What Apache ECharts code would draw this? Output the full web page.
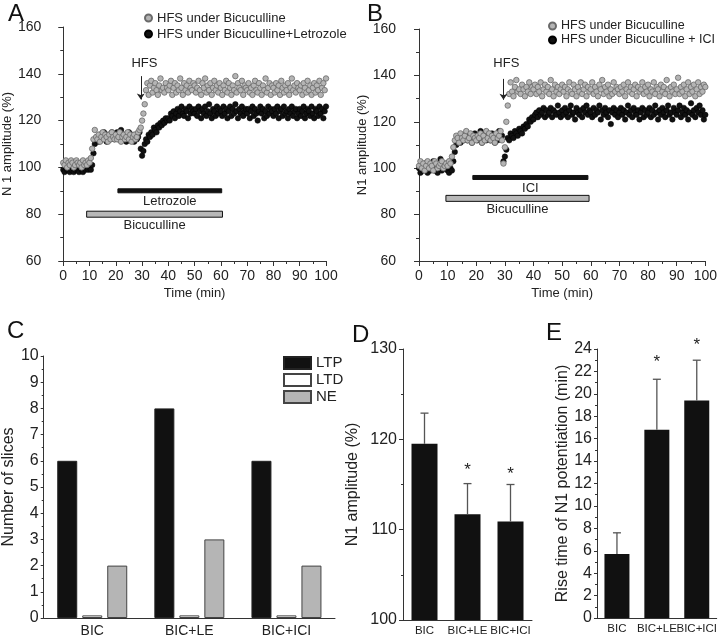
<!DOCTYPE html>
<html lang="en">
<head>
<meta charset="UTF-8">
<title>N1 amplitude</title>
<script src="https://cdn.jsdelivr.net/npm/echarts@6/dist/echarts.min.js"></script>
<style>body{margin:0;background:#fff}</style>
</head>
<body>
<div id="main" style="width:720px;height:638px"></div>
<script type="text/javascript">
// recordings in A and B, one value every 0.5 min from 0 to 100 min
var step = 0.5;
var aBic = [
  102,101,103,100,102,101,103,102,100,101,103,102,101,102,100,103,101,102,101,103,
  102,104,108,112,116,113,112,114,111,113,115,112,114,113,111,114,112,115,113,112,
  114,112,113,115,111,113,114,112,113,115,112,114,111,113,114,112,113,115,116,117,
  120,123,127,133,136,131,135,137,132,134,136,133,131,135,138,133,134,132,136,134,
  133,135,137,131,134,136,132,135,133,138,134,131,136,133,135,132,137,134,133,136,
  135,132,134,137,133,131,136,134,138,132,135,133,136,131,134,137,133,135,132,136,
  134,131,135,133,137,132,136,134,131,135,133,139,132,136,134,133,137,131,135,134,
  133,136,132,134,131,135,137,133,132,136,134,131,135,133,138,132,134,136,131,135,
  134,132,136,133,135,131,137,134,132,135,133,136,131,134,138,133,135,132,136,134,
  133,135,131,136,134,132,137,133,135,131,134,136,132,135,133,137,131,134,136,133,
  138
];
var aLet = [
  99,98,100,99,101,98,99,100,98,99,101,99,98,100,99,98,100,99,101,99,
  100,99,101,106,110,112,113,111,114,112,113,115,112,111,114,113,112,115,113,112,
  113,115,112,114,116,113,112,114,111,113,115,112,114,113,111,114,112,113,115,108,
  105,107,110,112,111,114,113,115,114,117,116,115,118,117,119,118,120,119,121,120,
  121,120,123,122,124,121,123,125,122,124,126,123,122,125,124,121,126,123,125,124,
  123,125,122,126,124,121,125,123,126,122,124,127,123,121,125,124,122,126,123,125,
  124,122,126,123,125,121,124,126,122,125,123,127,124,121,125,123,126,122,124,125,
  123,125,121,124,126,122,125,123,120,124,126,123,125,121,124,122,126,123,125,124,
  122,125,123,126,121,124,125,122,126,123,124,121,125,123,126,122,124,125,121,123,
  125,122,124,126,121,123,125,124,122,126,123,121,125,124,122,126,123,125,121,124,
  126
];
var bBic = [
  101,103,100,102,99,101,103,100,102,101,99,103,102,100,101,102,103,100,101,102,
  101,103,102,105,109,112,114,113,111,115,113,112,114,116,112,113,115,111,114,113,
  112,114,113,115,111,114,112,116,113,115,112,114,113,111,115,113,114,116,112,102,
  109,120,127,132,137,133,131,135,138,133,134,132,136,134,131,135,133,137,132,135,
  134,136,132,135,133,137,131,134,136,133,135,132,138,134,131,136,133,135,132,134,
  136,133,135,131,134,137,133,132,136,134,131,135,133,137,132,134,136,131,135,133,
  134,137,132,135,133,131,136,134,138,132,135,133,136,131,134,132,137,133,135,134,
  132,135,133,136,131,134,137,133,135,132,134,136,131,135,133,134,137,132,135,133,
  136,131,134,133,137,132,135,134,131,136,133,135,132,138,134,131,135,133,136,132,
  134,139,132,135,133,136,131,134,137,132,135,133,136,131,134,137,132,135,133,136,
  135
];
var bIci = [
  100,98,101,99,102,100,98,101,99,100,103,99,101,98,100,104,99,101,100,102,
  99,98,100,99,103,107,110,112,113,111,114,112,113,115,112,114,113,111,112,115,
  113,112,114,116,111,113,115,112,114,113,112,115,113,111,114,112,116,113,114,103,
  105,108,113,112,115,114,113,116,115,114,117,116,115,118,117,119,118,121,120,122,
  121,123,124,122,125,123,124,126,122,125,123,124,126,122,125,124,123,127,124,122,
  125,123,126,124,122,125,127,123,124,121,126,124,123,125,122,126,124,127,123,125,
  124,122,126,123,125,124,127,121,125,123,126,124,122,125,119,124,126,123,125,122,
  124,126,123,125,121,124,127,123,125,122,126,124,123,125,121,124,126,122,125,123,
  124,126,122,125,123,127,124,121,125,123,126,124,122,125,127,123,124,121,126,124,
  123,125,127,122,124,126,123,125,121,124,128,123,125,122,126,124,127,123,125,121,
  123
];
var timeTicks = [0, 100, 10];
var ampTicks = [60, 160, 20];

// drug application bars: [start, end, level]
var aDrugs = [[20.8, 60.3, 90], [8.9, 60.6, 80]];
var aDrugNames = ['Letrozole', 'Bicuculline'];
var bDrugs = [[18.8, 59, 96], [9.4, 59.4, 87]];
var bDrugNames = ['ICI', 'Bicuculline'];
var aArrow = [[29.5, 139], [29.5, 129]];
var bArrow = [[29.5, 138.5], [29.5, 129.5]];
var aHfs = [30.9, 144.5];
var bHfs = [30.5, 145.3];

// C
var groups = ['BIC', 'BIC+LE', 'BIC+ICI'];
var ltp = [6, 8, 6];
var ltd = [0.1, 0.1, 0.1];
var ne = [2, 3, 2];

// D
var ampMean = [119.5, 111.7, 110.9];
var ampErr = [3.4, 3.4, 4.1];
var ampStar = [null, 116.6, 116.1];

// E
var riseMean = [5.7, 16.8, 19.4];
var riseErr = [1.9, 4.5, 3.6];
var riseStar = [null, 22.8, 24.3];

var font = 'Liberation Sans';
var ink = '#222';
var axisCol = '#333';

function pts(arr) {
    return arr.map(function (v, i) { return [i * step, v]; });
}

function axisBase(extra) {
    var o = {
        axisLine: {show: true, lineStyle: {color: axisCol, width: 1}},
        axisTick: {show: true, length: 5, lineStyle: {color: axisCol}},
        minorTick: {show: true, splitNumber: 2, length: 3, lineStyle: {color: axisCol}},
        splitLine: {show: false},
        axisLabel: {color: ink, fontFamily: font, fontSize: 14},
        nameTextStyle: {color: ink, fontFamily: font, fontSize: 13},
        nameLocation: 'middle'
    };
    for (var k in extra) o[k] = extra[k];
    return o;
}

function drugBar(names) {
    return function (params, api) {
        var i = params.dataIndex;
        var p0 = api.coord([api.value(0), api.value(2)]);
        var p1 = api.coord([api.value(1), api.value(2)]);
        var h = i === 0 ? 4 : 6;
        return {
            type: 'group',
            children: [
                {type: 'rect', shape: {x: p0[0], y: p0[1] - h / 2, width: p1[0] - p0[0], height: h},
                 style: {fill: i === 0 ? '#111' : '#b8b8b8', stroke: '#111', lineWidth: 1}},
                {type: 'text', style: {text: names[i], x: (p0[0] + p1[0]) / 2, y: p0[1] + h / 2 + 2,
                 align: 'center', verticalAlign: 'top', fontFamily: font, fontSize: 13, fill: ink}}
            ]
        };
    };
}

function errBar(params, api) {
    var base = api.coord([api.value(0), api.value(1)]);
    var top = api.coord([api.value(0), api.value(2)]);
    return {
        type: 'group',
        children: [
            {type: 'line', shape: {x1: base[0], y1: base[1], x2: top[0], y2: top[1]}, style: {stroke: '#555', lineWidth: 1.3}},
            {type: 'line', shape: {x1: top[0] - 4, y1: top[1], x2: top[0] + 4, y2: top[1]}, style: {stroke: '#555', lineWidth: 1.3}}
        ]
    };
}

function errData(mean, err) {
    return mean.map(function (m, i) { return [i, m, m + err[i]]; });
}

function starData(stars) {
    var out = [];
    stars.forEach(function (s, i) { if (s !== null) out.push([i, s]); });
    return out;
}

function textPoint(pos, txt, xi, size) {
    return {
        type: 'scatter', xAxisIndex: xi, yAxisIndex: xi, symbolSize: 0, silent: true, clip: false,
        itemStyle: {opacity: 1},
        data: [{value: pos, name: txt}],
        label: {show: true, position: 'inside', formatter: '{b}', color: ink, fontFamily: font, fontSize: size}
    };
}

var grayDot = {color: '#b4b4b4', borderColor: '#6a6a6a', borderWidth: 0.8, opacity: 1};
var blackDot = {color: '#111', borderColor: '#000', borderWidth: 0.5, opacity: 1};
var barLabel = {color: ink, fontFamily: font, fontSize: 11.5, margin: 5, interval: 0, hideOverlap: false};
var shortTick = {show: true, length: 3, lineStyle: {color: axisCol}};
var shortMinor = {show: true, splitNumber: 2, length: 2, lineStyle: {color: axisCol}};
var bigName = {color: ink, fontFamily: font, fontSize: 16};

var myChart = echarts.init(document.getElementById('main'));

var option = {
    animation: false,
    backgroundColor: '#fff',
    textStyle: {fontFamily: font},
    title: [
        {text: 'A', left: 3, top: -3},
        {text: 'B', left: 362, top: -3},
        {text: 'C', left: 2, top: 314},
        {text: 'D', left: 347, top: 318},
        {text: 'E', left: 541, top: 316}
    ].map(function (t) {
        t.textStyle = {fontFamily: font, fontSize: 24, fontWeight: 'normal', color: '#111'};
        return t;
    }),
    legend: [
        {orient: 'vertical', left: 139, top: 5, itemWidth: 7, itemHeight: 7, itemGap: 0,
         textStyle: {fontFamily: font, fontSize: 13, lineHeight: 16, color: ink},
         data: ['HFS under Bicuculline', 'HFS under Bicuculline+Letrozole']},
        {orient: 'vertical', left: 543, top: 14, itemWidth: 7, itemHeight: 7, itemGap: 0,
         textStyle: {fontFamily: font, fontSize: 12.5, lineHeight: 14, color: ink},
         data: ['HFS under Bicuculline', 'HFS under Bicuculline + ICI']},
        {orient: 'vertical', left: 278, top: 350, itemWidth: 27, itemHeight: 12, itemGap: 1, icon: 'rect',
         textStyle: {fontFamily: font, fontSize: 15, lineHeight: 16, color: ink},
         data: ['LTP', 'LTD', 'NE']}
    ],
    grid: [
        {left: 57, top: 27, width: 269, height: 234},
        {left: 419, top: 29, width: 288, height: 232},
        {left: 42, top: 356, width: 293, height: 263},
        {left: 403, top: 349, width: 129, height: 271},
        {left: 597, top: 349, width: 120, height: 269}
    ],
    xAxis: [
        axisBase({gridIndex: 0, type: 'value', min: timeTicks[0], max: timeTicks[1], interval: timeTicks[2],
                  name: 'Time (min)', nameGap: 26}),
        axisBase({gridIndex: 1, type: 'value', min: timeTicks[0], max: timeTicks[1], interval: timeTicks[2],
                  name: 'Time (min)', nameGap: 26}),
        axisBase({gridIndex: 2, type: 'category', data: groups, axisTick: {show: false}, minorTick: {show: false},
                  axisLabel: {color: ink, fontFamily: font, fontSize: 14, margin: 6, interval: 0}}),
        axisBase({gridIndex: 3, type: 'category', data: groups, axisTick: {show: false}, minorTick: {show: false},
                  axisLabel: barLabel}),
        axisBase({gridIndex: 4, type: 'category', data: groups, axisTick: {show: false}, minorTick: {show: false},
                  axisLabel: barLabel})
    ],
    yAxis: [
        axisBase({gridIndex: 0, type: 'value', min: ampTicks[0], max: ampTicks[1], interval: ampTicks[2],
                  offset: 14, name: 'N 1 amplitude (%)', nameGap: 26}),
        axisBase({gridIndex: 1, type: 'value', min: ampTicks[0], max: ampTicks[1], interval: ampTicks[2],
                  offset: 15, name: 'N1 amplitude (%)', nameGap: 30}),
        axisBase({gridIndex: 2, type: 'value', min: 0, max: 10, interval: 1, name: 'Number of slices', nameGap: 15,
                  axisTick: shortTick, minorTick: shortMinor,
                  axisLabel: {color: ink, fontFamily: font, fontSize: 16, margin: 5}, nameTextStyle: bigName}),
        axisBase({gridIndex: 3, type: 'value', min: 100, max: 130, interval: 10, name: 'N1 amplitude (%)', nameGap: 42,
                  axisTick: {show: true, length: 4, lineStyle: {color: axisCol}}, minorTick: shortMinor,
                  axisLabel: {color: ink, fontFamily: font, fontSize: 16, margin: 6}, nameTextStyle: bigName}),
        axisBase({gridIndex: 4, type: 'value', min: 0, max: 24, interval: 2, name: 'Rise time of N1 potentiation (min)', nameGap: 22,
                  axisTick: shortTick, minorTick: shortMinor,
                  axisLabel: {color: ink, fontFamily: font, fontSize: 16, margin: 5}, nameTextStyle: bigName})
    ],
    series: [
        // A
        {name: 'HFS under Bicuculline+Letrozole', type: 'scatter', xAxisIndex: 0, yAxisIndex: 0,
         symbolSize: 5.5, itemStyle: blackDot, data: pts(aLet)},
        {name: 'HFS under Bicuculline', type: 'scatter', xAxisIndex: 0, yAxisIndex: 0,
         symbolSize: 5.5, itemStyle: grayDot, data: pts(aBic),
         markLine: {silent: true, symbol: ['none', 'arrow'], symbolSize: 6, label: {show: false},
                    lineStyle: {color: ink, width: 1, type: 'solid', opacity: 1},
                    data: [[{coord: aArrow[0]}, {coord: aArrow[1]}]]}},
        {type: 'custom', xAxisIndex: 0, yAxisIndex: 0, renderItem: drugBar(aDrugNames), data: aDrugs, silent: true},
        textPoint(aHfs, 'HFS', 0, 13),
        // B
        {name: 'HFS under Bicuculline + ICI', type: 'scatter', xAxisIndex: 1, yAxisIndex: 1,
         symbolSize: 5.5, itemStyle: blackDot, data: pts(bIci)},
        {name: 'HFS under Bicuculline', type: 'scatter', xAxisIndex: 1, yAxisIndex: 1,
         symbolSize: 5.5, itemStyle: grayDot, data: pts(bBic),
         markLine: {silent: true, symbol: ['none', 'arrow'], symbolSize: 6, label: {show: false},
                    lineStyle: {color: ink, width: 1, type: 'solid', opacity: 1},
                    data: [[{coord: bArrow[0]}, {coord: bArrow[1]}]]}},
        {type: 'custom', xAxisIndex: 1, yAxisIndex: 1, renderItem: drugBar(bDrugNames), data: bDrugs, silent: true},
        textPoint(bHfs, 'HFS', 1, 13),
        // C
        {name: 'LTP', type: 'bar', xAxisIndex: 2, yAxisIndex: 2, barWidth: 20, barGap: '25%', data: ltp,
         itemStyle: {color: '#111', borderColor: '#222', borderWidth: 1}},
        {name: 'LTD', type: 'bar', xAxisIndex: 2, yAxisIndex: 2, barWidth: 20, barGap: '25%', data: ltd,
         itemStyle: {color: '#fff', borderColor: '#444', borderWidth: 1}},
        {name: 'NE', type: 'bar', xAxisIndex: 2, yAxisIndex: 2, barWidth: 20, barGap: '25%', data: ne,
         itemStyle: {color: '#b5b5b5', borderColor: '#444', borderWidth: 1}},
        // D
        {type: 'bar', xAxisIndex: 3, yAxisIndex: 3, barWidth: 26, data: ampMean, itemStyle: {color: '#111'}},
        {type: 'custom', xAxisIndex: 3, yAxisIndex: 3, renderItem: errBar, data: errData(ampMean, ampErr),
         encode: {x: 0, y: [1, 2]}, z: 3, silent: true},
        {type: 'scatter', xAxisIndex: 3, yAxisIndex: 3, symbolSize: 0, clip: false, silent: true, data: starData(ampStar),
         itemStyle: {opacity: 1},
         label: {show: true, position: 'inside', formatter: '*', color: ink, fontFamily: font, fontSize: 17}},
        // E
        {type: 'bar', xAxisIndex: 4, yAxisIndex: 4, barWidth: 25, data: riseMean, itemStyle: {color: '#111'}},
        {type: 'custom', xAxisIndex: 4, yAxisIndex: 4, renderItem: errBar, data: errData(riseMean, riseErr),
         encode: {x: 0, y: [1, 2]}, z: 3, silent: true},
        {type: 'scatter', xAxisIndex: 4, yAxisIndex: 4, symbolSize: 0, clip: false, silent: true, data: starData(riseStar),
         itemStyle: {opacity: 1},
         label: {show: true, position: 'inside', formatter: '*', color: ink, fontFamily: font, fontSize: 17}}
    ]
};

myChart.setOption(option);
</script>
</body>
</html>
